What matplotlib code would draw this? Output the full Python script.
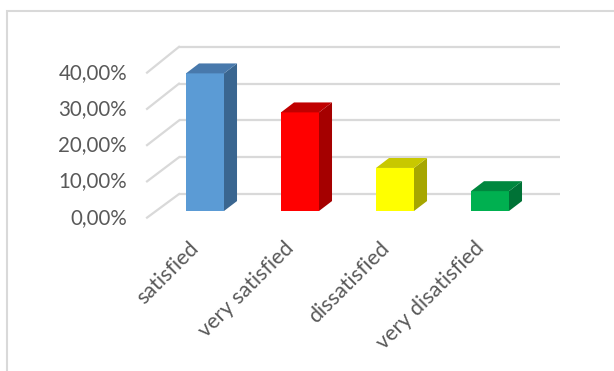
import matplotlib

matplotlib.use("Agg")
import matplotlib.pyplot as plt
from matplotlib.patches import Polygon, Rectangle

categories = ["satisfied", "very satisfied", "dissatisfied", "very disatisfied"]
values = [37.4, 26.8, 11.7, 5.4]
front_colors = ["#5B9BD5", "#FF0000", "#FFFF00", "#00B050"]
side_colors = ["#3A6690", "#A50000", "#A6A600", "#007236"]
top_colors = ["#4879AC", "#C00000", "#C8C800", "#00873E"]
yticks = [0, 10, 20, 30, 40]
ytick_labels = ["0,00%", "10,00%", "20,00%", "30,00%", "40,00%"]

plt.rcParams["font.family"] = ["Lato", "DejaVu Sans"]
GRID = "#D9D9D9"
TEXT = "#595959"

fig = plt.figure(figsize=(6.14, 3.71), dpi=100)
ax = fig.add_axes([0, 0, 1, 1])
ax.set_xlim(-205 / 95, 409 / 95)
ax.set_ylim(-160 / 3.68, 211 / 3.68)
ax.axis("off")

# chart frame
fig.patches.append(Rectangle((7 / 614, -0.1), 1.2, 1 - 11 / 371 + 0.1,
                             transform=fig.transFigure, fill=False,
                             edgecolor=GRID, linewidth=1.5))

# walls: back wall gridlines + side wall diagonals
wall_left_front, wall_left_back, wall_right = -0.61, -0.274, 3.74
back_dy = 4.6
front_scale, front_off = 0.985, -1.8
for v, lab in zip(yticks, ytick_labels):
    ax.plot([wall_left_back, wall_right], [v + back_dy, v + back_dy],
            color=GRID, lw=1.6, zorder=1, solid_capstyle="butt")
    yf = v * front_scale + front_off
    ax.plot([wall_left_front, wall_left_back], [yf, v + back_dy],
            color=GRID, lw=1.6, zorder=1)
    ax.text(-0.82, yf, lab, ha="right", va="center", fontsize=14.8, color=TEXT)

# 3d bars
w, dx, dy = 0.4, 0.137, 2.7
xs = list(range(len(categories)))
ax.bar(xs, values, width=w, color=front_colors, zorder=3)
for x, v, sc, tc in zip(xs, values, side_colors, top_colors):
    r = x + w / 2
    l = x - w / 2
    ax.add_patch(Polygon([(r, 0), (r + dx, dy), (r + dx, v + dy), (r, v)],
                         closed=True, facecolor=sc, edgecolor="none", zorder=3))
    ax.add_patch(Polygon([(l, v), (r, v), (r + dx, v + dy), (l + dx, v + dy)],
                         closed=True, facecolor=tc, edgecolor="none", zorder=3))

for x, c in zip(xs, categories):
    ax.text(x - 0.17, -7.3, c, rotation=45, rotation_mode="anchor",
            ha="right", va="top", fontsize=15.5, color=TEXT)

fig.savefig("out.png", dpi=100)
